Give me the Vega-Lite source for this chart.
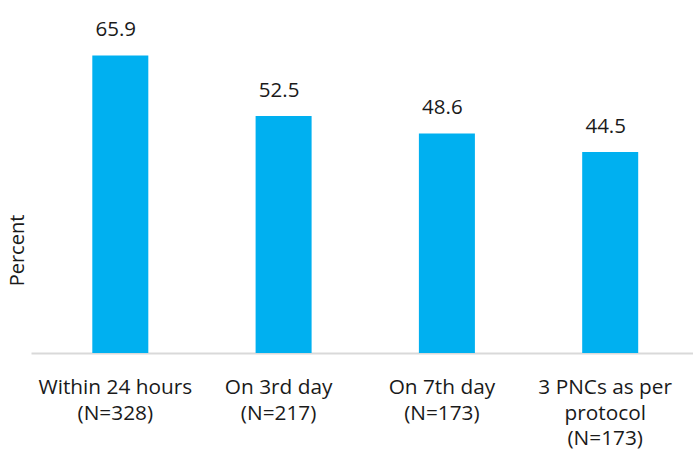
{
  "$schema": "https://vega.github.io/schema/vega-lite/v6.json",
  "width": 662,
  "height": 316,
  "autosize": {"type": "none"},
  "padding": {"left": 31, "top": 37, "right": 0, "bottom": 97},
  "background": "white",
  "config": {"view": {"stroke": null}, "font": "Open Sans"},
  "data": {
    "values": [
      {"category": "Within 24 hours|(N=328)", "percent": 65.9},
      {"category": "On 3rd day|(N=217)", "percent": 52.5},
      {"category": "On 7th day|(N=173)", "percent": 48.6},
      {"category": "3 PNCs as per|protocol|(N=173)", "percent": 44.5}
    ]
  },
  "encoding": {
    "x": {
      "field": "category",
      "type": "nominal",
      "sort": null,
      "scale": {"paddingInner": 0.657, "paddingOuter": 0.3555, "align": 0.528},
      "axis": {
        "title": null,
        "labelAngle": 0,
        "labelExpr": "split(datum.label, '|')",
        "labelFont": "Open Sans",
        "labelFontSize": 20.8,
        "labelColor": "#1a1a1a",
        "labelLineHeight": 25.5,
        "labelPadding": 40.5,
        "labelBaseline": "alphabetic",
        "labelOffset": -5,
        "ticks": false,
        "domainColor": "#d9d9d9",
        "domainWidth": 2,
        "labelLimit": 300
      }
    },
    "y": {
      "field": "percent",
      "type": "quantitative",
      "scale": {"domain": [0, 70], "nice": false},
      "axis": {
        "title": "Percent",
        "titleFont": "Open Sans",
        "titleFontSize": 20,
        "titleFontWeight": "normal",
        "titleColor": "#1a1a1a",
        "titleX": -14,
        "titleY": 213,
        "titleAngle": -90,
        "titleAlign": "center",
        "titleBaseline": "middle",
        "labels": false,
        "ticks": false,
        "domain": false,
        "grid": false
      }
    }
  },
  "layer": [
    {"mark": {"type": "bar", "color": "#00B0F0"}},
    {
      "mark": {
        "type": "text",
        "baseline": "alphabetic",
        "dy": -19.5,
        "dx": -4.5,
        "font": "Open Sans",
        "fontSize": 20.5,
        "color": "#1a1a1a"
      },
      "encoding": {"text": {"field": "percent", "type": "quantitative", "format": ".1f"}}
    }
  ]
}
